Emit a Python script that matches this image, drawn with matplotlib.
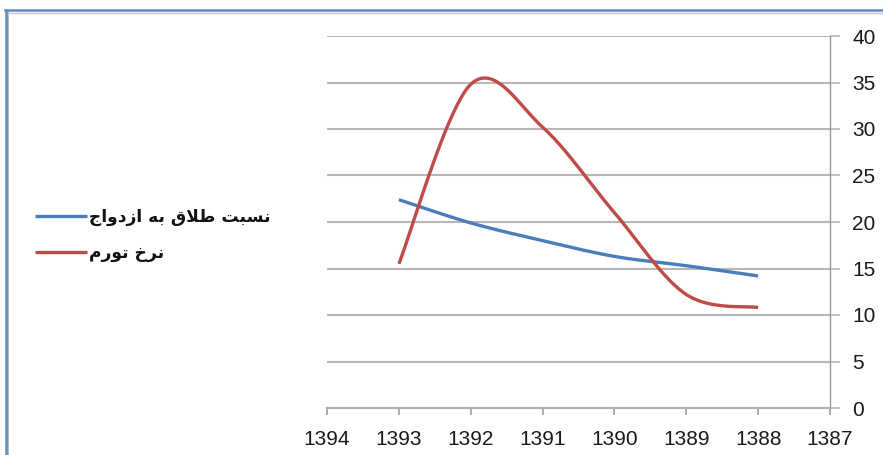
import numpy as np
import matplotlib
matplotlib.use("Agg")
import matplotlib.pyplot as plt
from matplotlib.lines import Line2D

# ---- data ----
years = [1393, 1392, 1391, 1390, 1389, 1388]
divorce_ratio = [22.4, 19.9, 18.0, 16.3, 15.3, 14.2]
inflation = [15.5, 34.8, 30.2, 21.0, 12.2, 10.8]
series_labels = ["نسبت طلاق به ازدواج", "نرخ تورم"]
x_ticks = [1394, 1393, 1392, 1391, 1390, 1389, 1388, 1387]
y_ticks = [0, 5, 10, 15, 20, 25, 30, 35, 40]

# ---- minimal Arabic/Persian shaping (presentation forms) ----
FORMS = {
    'ا': ('\uFE8D', '\uFE8E', None, None),
    'ب': ('\uFE8F', '\uFE90', '\uFE91', '\uFE92'),
    'ت': ('\uFE95', '\uFE96', '\uFE97', '\uFE98'),
    'ج': ('\uFE9D', '\uFE9E', '\uFE9F', '\uFEA0'),
    'خ': ('\uFEA5', '\uFEA6', '\uFEA7', '\uFEA8'),
    'د': ('\uFEA9', '\uFEAA', None, None),
    'ر': ('\uFEAD', '\uFEAE', None, None),
    'ز': ('\uFEAF', '\uFEB0', None, None),
    'س': ('\uFEB1', '\uFEB2', '\uFEB3', '\uFEB4'),
    'ط': ('\uFEC1', '\uFEC2', '\uFEC3', '\uFEC4'),
    'ق': ('\uFED5', '\uFED6', '\uFED7', '\uFED8'),
    'ل': ('\uFEDD', '\uFEDE', '\uFEDF', '\uFEE0'),
    'م': ('\uFEE1', '\uFEE2', '\uFEE3', '\uFEE4'),
    'ن': ('\uFEE5', '\uFEE6', '\uFEE7', '\uFEE8'),
    'ه': ('\uFEE9', '\uFEEA', '\uFEEB', '\uFEEC'),
    'و': ('\uFEED', '\uFEEE', None, None),
}


def dual(c):
    return c in FORMS and FORMS[c][2] is not None


def shape(text):
    out = []
    chars = list(text)
    i = 0
    n = len(chars)
    while i < n:
        c = chars[i]
        if c not in FORMS:
            out.append(c)
            i += 1
            continue
        prev = chars[i - 1] if i > 0 else ''
        join_prev = dual(prev)
        if c == 'ل' and i + 1 < n and chars[i + 1] == 'ا':
            out.append('\uFEFC' if join_prev else '\uFEFB')
            i += 2
            continue
        nxt = chars[i + 1] if i + 1 < n else ''
        join_next = dual(c) and nxt in FORMS
        iso, fin, ini, med = FORMS[c]
        if join_prev and join_next:
            out.append(med)
        elif join_prev:
            out.append(fin)
        elif join_next:
            out.append(ini)
        else:
            out.append(iso)
        i += 1
    return ''.join(reversed(out))


def catmull_rom(xs, ys, n=40):
    xs = np.asarray(xs, float)
    ys = np.asarray(ys, float)
    px = np.concatenate([[xs[0]], xs, [xs[-1]]])
    py = np.concatenate([[ys[0]], ys, [ys[-1]]])
    ox, oy = [], []
    t = np.linspace(0, 1, n)
    for k in range(1, len(px) - 2):
        p0, p1, p2, p3 = px[k - 1], px[k], px[k + 1], px[k + 2]
        q0, q1, q2, q3 = py[k - 1], py[k], py[k + 1], py[k + 2]
        bx = [p1, p1 + (p2 - p0) / 6, p2 - (p3 - p1) / 6, p2]
        by = [q1, q1 + (q2 - q0) / 6, q2 - (q3 - q1) / 6, q2]
        b = [(1 - t) ** 3, 3 * (1 - t) ** 2 * t, 3 * (1 - t) * t ** 2, t ** 3]
        ox.append(sum(bi * c for bi, c in zip(b, bx)))
        oy.append(sum(bi * c for bi, c in zip(b, by)))
    return np.concatenate(ox), np.concatenate(oy)


plt.rcParams['font.family'] = ['Liberation Sans', 'DejaVu Sans']

W, H = 883, 455
fig = plt.figure(figsize=(W / 100, H / 100), dpi=100)
fig.patch.set_facecolor('white')

# frame of the original screenshot
fig.add_artist(Line2D([8 / W, 8 / W], [0, 1 - 12 / H], transform=fig.transFigure,
                      color='#bdbdbd', lw=1.5, zorder=0))
fig.add_artist(Line2D([8 / W, 1], [1 - 12.5 / H, 1 - 12.5 / H], transform=fig.transFigure,
                      color='#c8c8c8', lw=1.0, zorder=0))
fig.add_artist(Line2D([5 / W, 1], [1 - 10 / H, 1 - 10 / H], transform=fig.transFigure,
                      color='#5b8bc9', lw=1.8, zorder=1))
fig.add_artist(Line2D([6 / W, 6 / W], [0, 1 - 10 / H], transform=fig.transFigure,
                      color='#5b8bc9', lw=1.8, zorder=1))

left, right = 327 / W, 830 / W
bottom, top = (H - 408) / H, (H - 36) / H
ax = fig.add_axes([left, bottom, right - left, top - bottom])

ax.set_xlim(1394, 1387)
ax.set_ylim(0, 40)
ax.set_xticks(x_ticks)
ax.set_xticklabels([str(v) for v in x_ticks])
ax.set_yticks(y_ticks)
ax.yaxis.tick_right()

grid_c = '#b7b7b7'
for s in ['top', 'left']:
    ax.spines[s].set_visible(False)
ax.spines['right'].set_color('#9a9a9a')
ax.spines['right'].set_linewidth(1.0)
ax.spines['bottom'].set_color('#b0b0b0')
ax.spines['bottom'].set_linewidth(1.5)
ax.grid(axis='y', color=grid_c, lw=1.5)
ax.set_axisbelow(True)
ax.tick_params(axis='y', direction='out', length=7, width=1.2, color=grid_c,
               labelsize=15, pad=9, labelcolor='#1a1a1a')
ax.tick_params(axis='x', direction='out', length=5, width=1.2, color='#a0a0a0',
               labelsize=15, pad=11, labelcolor='#1a1a1a')

bx, by = catmull_rom(years, divorce_ratio)
rx, ry = catmull_rom(years, inflation)
l1, = ax.plot(bx, by, color='#4a7ebb', lw=2.4, solid_capstyle='butt', clip_on=False)
l2, = ax.plot(rx, ry, color='#be4b48', lw=2.4, solid_capstyle='butt', clip_on=False)

leg = fig.legend([l1, l2], [shape(s) for s in series_labels],
                 loc='center left', bbox_to_anchor=(20 / W, 1 - 235 / H),
                 frameon=False, handlelength=3.05, handletextpad=0.08,
                 labelspacing=1.08,
                 prop={'family': 'DejaVu Sans', 'size': 12.3, 'weight': 'bold'})
for t in leg.get_texts():
    t.set_color('#111111')

fig.savefig('out.png', dpi=100)
